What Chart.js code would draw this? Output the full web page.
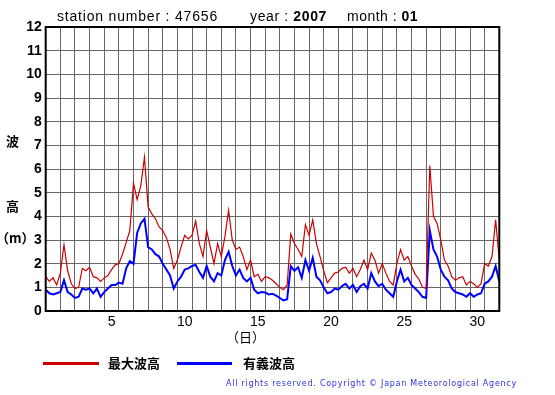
<!DOCTYPE html>
<html>
<head>
<meta charset="utf-8">
<script src="https://cdn.jsdelivr.net/npm/chart.js@4"></script>
<style>
  body { margin: 0; background: #fff; }
  #wrap { position: relative; width: 555px; height: 395px; overflow: hidden; }
  #chart { position: absolute; left: 0; top: 0; }
  .t { position: absolute; white-space: nowrap; line-height: 1; color: #000; }
  .head { font-family: "Liberation Sans", Arial, sans-serif; font-size: 14px; top: 9px; }
  .jp { font-family: "Noto Sans CJK JP", sans-serif; font-weight: bold; font-size: 13px; }
  .swatch { position: absolute; height: 3px; }
  #copy { font-family: "DejaVu Sans", sans-serif; font-size: 8px; color: #3030e0; left: 226px; top: 380px; }
</style>
</head>
<body>
<div id="wrap">
  <canvas id="chart" width="555" height="395"></canvas>
  <span class="t head" id="h1" style="left:57px">station number : 47656</span>
  <span class="t head" id="h2" style="left:250px">year : <b>2007</b></span>
  <span class="t head" id="h3" style="left:347px">month : <b>01</b></span>
  <span class="t jp" style="left:6px;top:134px">波</span>
  <span class="t jp" style="left:6px;top:199px">高</span>
  <span class="t jp" style="left:-4px;top:231px">（m）</span>
  <span class="t jp" style="left:226px;top:330px;font-weight:normal">（日）</span>
  <div class="swatch" style="left:43px;top:362px;width:56px;background:#cc0000"></div>
  <span class="t jp" style="left:108px;top:356px">最大波高</span>
  <div class="swatch" style="left:177px;top:362px;width:55px;background:#0000ff"></div>
  <span class="t jp" style="left:243px;top:356px">有義波高</span>
  <span class="t" id="copy">All rights reserved. Copyright © Japan Meteorological Agency</span>
</div>
<script>
// 6-hourly values, day 1 00h .. day 31 24h
const stepDays = 0.25;
const maxWave = [
  1.45, 1.25, 1.4, 1.1, 1.6, 2.8, 1.7, 1.15, 0.95, 1.0, 1.8, 1.7,
  1.85, 1.45, 1.4, 1.25, 1.4, 1.5, 1.75, 1.95, 2.0, 2.4, 2.9, 3.4,
  5.4, 4.7, 5.3, 6.5, 4.4, 4.1, 3.9, 3.55, 3.4, 3.1, 2.6, 1.8,
  2.15, 2.7, 3.2, 3.05, 3.2, 3.8, 2.85, 2.3, 3.4, 2.7, 2.0, 2.85,
  2.3, 3.15, 4.25, 3.0, 2.6, 2.7, 2.3, 1.75, 2.15, 1.45, 1.55, 1.25,
  1.45, 1.4, 1.3, 1.15, 1.0, 0.9, 1.1, 3.25, 2.85, 2.6, 2.3, 3.65,
  3.2, 3.85, 2.85, 2.3, 1.7, 1.2, 1.4, 1.6, 1.65, 1.8, 1.85, 1.6,
  1.8, 1.45, 1.75, 2.15, 1.75, 2.45, 2.15, 1.6, 2.0, 1.6, 1.25, 1.1,
  2.0, 2.6, 2.15, 2.3, 1.9, 1.55, 1.35, 1.0, 0.95, 6.15, 4.0, 3.7,
  3.0, 2.15, 1.9, 1.45, 1.3, 1.4, 1.45, 1.1, 1.25, 1.15, 1.0, 1.15,
  2.0, 1.9, 2.3, 3.85, 2.15
];
const sigWave = [
  0.9, 0.75, 0.7, 0.75, 0.8, 1.3, 0.8, 0.7, 0.55, 0.6, 0.95, 0.9,
  0.95, 0.75, 0.95, 0.6, 0.8, 0.95, 1.1, 1.1, 1.2, 1.15, 1.8, 2.1,
  2.0, 3.3, 3.7, 3.9, 2.7, 2.6, 2.4, 2.3, 2.0, 1.75, 1.5, 0.95,
  1.25, 1.45, 1.75, 1.8, 1.9, 1.95, 1.65, 1.4, 1.9, 1.45, 1.25, 1.6,
  1.5, 2.15, 2.5, 1.9, 1.5, 1.75, 1.4, 1.25, 1.4, 0.9, 0.75, 0.8,
  0.78, 0.7, 0.73, 0.65, 0.55, 0.45, 0.5, 1.9, 1.7, 1.85, 1.4, 2.15,
  1.7, 2.25, 1.45, 1.3, 1.0, 0.75, 0.8, 0.95, 0.9, 1.05, 1.15, 0.95,
  1.1, 0.8, 1.05, 1.15, 0.95, 1.6, 1.25, 1.05, 1.15, 0.9, 0.75, 0.6,
  1.25, 1.75, 1.25, 1.4, 1.1, 0.95, 0.8, 0.6, 0.55, 3.4, 2.6, 2.3,
  1.75, 1.45, 1.3, 0.95, 0.8, 0.75, 0.7, 0.6, 0.75, 0.6, 0.7, 0.75,
  1.15, 1.25, 1.45, 1.9, 1.25
];
const dayLabels = [5, 10, 15, 20, 25, 30];
const daysInMonth = 31;

const toPoints = (arr) => arr.map((v, i) => ({ x: i * stepDays, y: v }));

const frame = {
  id: 'frame',
  afterDatasetsDraw(chart) {
    const a = chart.chartArea;
    const c = chart.ctx;
    c.save();
    c.strokeStyle = '#000';
    c.lineWidth = 2;
    c.strokeRect(a.left, a.top, a.right - a.left, a.bottom - a.top);
    c.restore();
  }
};

new Chart(document.getElementById('chart'), {
  type: 'line',
  data: {
    datasets: [
      { label: '最大波高', data: toPoints(maxWave), borderColor: '#cc0000', borderWidth: 1.2, pointRadius: 0, tension: 0 },
      { label: '有義波高', data: toPoints(sigWave), borderColor: '#0000ff', borderWidth: 2, pointRadius: 0, tension: 0 }
    ]
  },
  options: {
    responsive: false,
    animation: false,
    layout: { padding: { left: 0, top: 27, right: 55.7, bottom: 64 } },
    plugins: { legend: { display: false }, tooltip: { enabled: false } },
    scales: {
      x: {
        type: 'linear',
        min: 0,
        max: daysInMonth,
        afterFit: (s) => { s.height = 20; },
        afterBuildTicks: (s) => {
          const t = [];
          for (let v = 0; v <= daysInMonth; v += 0.5) t.push({ value: v });
          s.ticks = t;
        },
        grid: {
          drawTicks: false,
          lineWidth: 1,
          color: (ctx) => (ctx.tick && Number.isInteger(ctx.tick.value)) ? '#666' : 'rgba(0,0,0,0)'
        },
        border: { display: false },
        ticks: {
          autoSkip: false,
          maxRotation: 0,
          padding: 3,
          color: '#000',
          font: { family: '"Liberation Sans", Arial, sans-serif', size: 14 },
          callback: (v) => dayLabels.includes(v + 0.5) ? String(v + 0.5) : ''
        }
      },
      y: {
        min: 0,
        max: 12,
        afterFit: (s) => { s.width = 45.7; },
        grid: { drawTicks: false, color: '#666', lineWidth: 1 },
        border: { display: false },
        ticks: {
          stepSize: 1,
          padding: 4,
          color: '#000',
          font: { family: '"Liberation Sans", Arial, sans-serif', size: 14, weight: 'bold' }
        }
      }
    }
  },
  plugins: [frame]
});

// stretch header / footer texts to the measured widths of the original
const fit = (id, w) => {
  const el = document.getElementById(id);
  const n = el.textContent.length;
  const cur = el.getBoundingClientRect().width;
  el.style.letterSpacing = ((w - cur) / n) + 'px';
};
fit('h1', 161);
fit('h2', 77);
fit('h3', 71);
fit('copy', 291);
</script>
</body>
</html>
